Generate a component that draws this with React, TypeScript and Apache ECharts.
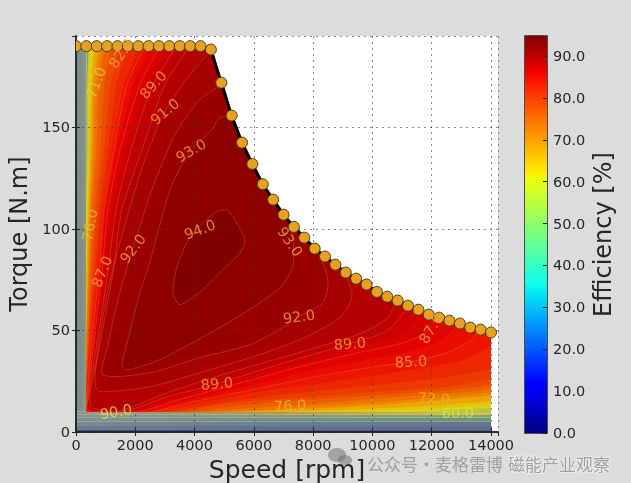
// Motor efficiency map: torque vs speed with contour bands, peak torque envelope and colour bar
import { useEffect, useRef } from "react";
import * as echarts from "echarts";

const FONT = "DejaVu Sans";
const TEXT = "#262626";
const SPEED_MAX = 14236;
const TORQUE_MAX = 195;
const EFF_MAX = 94.8;

// Peak torque envelope
const ENVELOPE_SPEED = [
  0, 350, 700, 1050, 1400, 1750, 2100, 2450, 2800, 3150, 3500, 3850, 4200, 4550, 4900, 5250, 5600, 5950, 6300, 6650,
  7000, 7350, 7700, 8050, 8400, 8750, 9100, 9450, 9800, 10150, 10500, 10850, 11200, 11550, 11900, 12250, 12600, 12950,
  13300, 13650, 14000,
];
const ENVELOPE_TORQUE = [
  190, 190, 190, 190, 190, 190, 190, 190, 190, 190, 190, 190, 190, 188.3, 172, 155.8, 142.5, 132, 122, 114.4, 107, 101,
  95.7, 90.3, 86.4, 82.4, 78.5, 75.5, 72.6, 69, 66.6, 64.7, 62.2, 60.2, 57.8, 56.3, 54.8, 53.4, 51.4, 50.4, 49,
];

// Efficiency contours as [speed, torque], drawn from low to high
const BASE_BAND = [[350, 190], [350, 10], [14000, 10], [14000, 49]];
const LEVELS = [60, 63, 66, 69, 72, 74, 76, 78, 80, 82, 84, 85, 86, 87, 88, 89, 90, 91, 92, 93, 94];
const LEVEL_OPACITY = [0.55, 0.65, 0.72, 0.8, 0.85, 0.9, 0.95, 1, 1, 1, 1, 1, 1, 1, 1, 1, 1, 1, 1, 1, 1];
const LINE_LEVELS = [85, 87, 89, 90, 91, 92, 93, 94];
const CONTOURS: number[][][] = [
  [[420, 190], [380, 171], [380, 139], [350, 120], [350, 10], [12500, 10], [14000, 10.5]],
  [[470, 190], [420, 171], [420, 139], [350, 110], [350, 10], [11500, 10], [14000, 12]],
  [[540, 190], [470, 171], [440, 139], [380, 109.5], [350, 85], [350, 10], [9000, 10], [12000, 11.5], [14000, 13.5]],
  [[640, 190], [520, 171], [480, 139], [420, 109.5], [350, 75], [350, 10], [7000, 10], [10000, 11.5], [12000, 13], [14000, 15]],
  [[760, 190], [580, 171], [540, 139], [450, 109.5], [405, 79], [350, 50], [350, 10], [5500, 10], [8000, 11.5], [10000, 13], [12075, 15.5], [14000, 18]],
  [[880, 190], [670, 171], [620, 139], [490, 109.5], [440, 79], [350, 45], [350, 10], [5000, 10], [7000, 11.5], [9000, 13.5], [11000, 15.5], [12500, 17.5], [14000, 19.5]],
  [[1000, 190], [760, 171], [700, 139], [530, 109.5], [470, 79], [370, 40], [350, 30], [350, 10], [4500, 10], [6000, 12], [7220, 13], [9000, 15], [11000, 17.5], [12500, 19], [14000, 21]],
  [[1200, 190], [950, 171], [820, 139], [625, 109.5], [520, 79], [385, 40], [350, 28], [350, 10], [4000, 10], [5500, 13], [7000, 15], [9000, 17], [11000, 19], [12500, 20.5], [14000, 23]],
  [[1485, 190], [1150, 171], [945, 139], [710, 109.5], [575, 79], [405, 40.5], [350, 25], [350, 10], [3500, 10], [5000, 14], [7000, 16.5], [9000, 18.5], [11000, 20.5], [12500, 22], [14000, 26]],
  [[1750, 190], [1350, 171], [1070, 139], [810, 109.5], [640, 79], [425, 40.5], [350, 22], [350, 10], [3100, 10], [4700, 14], [6700, 18], [8700, 21], [10700, 24], [12300, 26.5], [14000, 31]],
  [[2150, 190], [1600, 171], [1200, 139], [900, 109.5], [710, 79], [470, 40.5], [355, 20], [350, 10], [2700, 10], [4200, 14.5], [6200, 20], [8200, 24], [10200, 28], [11700, 31.5], [13000, 35], [14000, 42]],
  [[2325, 190], [1720, 171], [1280, 139], [945, 109.5], [775, 79], [505, 40.5], [370, 18], [350, 10], [2500, 10], [4000, 15], [6000, 21], [8000, 27], [10000, 32], [11300, 34.6], [12500, 39], [13300, 45], [13650, 50.4]],
  [[2550, 190], [1900, 171], [1370, 139], [1000, 109.5], [820, 79], [540, 40.5], [390, 18], [370, 10], [2300, 10], [3700, 15.5], [5800, 22.5], [7800, 30], [9700, 35.5], [11000, 38.5], [12200, 44], [12950, 53.4]],
  [[2830, 190], [2160, 171], [1485, 139], [1080, 109.5], [875, 79], [575, 40.5], [405, 18.4], [390, 10], [2100, 10], [3500, 16], [5500, 24], [7500, 32], [9500, 39], [10800, 43], [11700, 48], [12150, 56.5]],
  [[3100, 190], [2380, 171], [1650, 139], [1200, 109.5], [960, 79], [620, 40.5], [420, 18.4], [400, 11], [1850, 10], [3250, 16.5], [5100, 24], [7200, 33], [9350, 41.5], [10700, 47], [11450, 54], [11700, 59]],
  [[3405, 190], [2600, 171], [1855, 139], [1350, 109.5], [1080, 79], [675, 40.5], [440, 18.4], [405, 11], [1600, 10], [3000, 17], [4755, 23.8], [7000, 34], [9240, 43.5], [10500, 50], [11200, 62]],
  [[3845, 190], [3000, 171], [2225, 139], [1550, 109.5], [1250, 79], [775, 40.5], [470, 18.4], [540, 12], [1350, 10], [3200, 20], [5000, 28.5], [7500, 39], [9500, 48], [10500, 56], [10800, 64.7]],
  [[4550, 188], [3845, 176], [3000, 157.8], [2325, 134], [1650, 102], [1080, 70], [740, 40.5], [640, 23], [810, 19.8], [2500, 22.3], [4180, 29.2], [5870, 36.6], [7555, 45.5], [8900, 56.3], [9310, 66.7], [9075, 78.5]],
  [[4925, 171], [4180, 163.7], [3340, 146.4], [2565, 119.4], [1920, 90.3], [1415, 65.2], [1080, 43], [910, 28.2], [2500, 29.2], [4180, 36.6], [5870, 43], [6980, 51.4], [7520, 56.8], [8330, 63.7], [8500, 75], [8130, 89.8]],
  [[5260, 155.5], [4855, 154.8], [4590, 148.9], [3880, 138.6], [3240, 121.8], [2830, 102], [2495, 83.9], [2090, 65.2], [1755, 45.5], [1550, 33], [1700, 30.5], [2730, 35], [4180, 46], [5295, 55.3], [6205, 63.7], [6980, 72.6], [7320, 82.4], [7320, 94.7], [7220, 103]],
  [[5093, 109.5], [5295, 106], [5700, 94.7], [5532, 88.3], [4857, 78.5], [4182, 69], [3508, 62.7], [3272, 68.6], [3407, 81.4], [3744, 93.2], [4216, 102], [4756, 108.5], [5093, 109.5]],
];

// Contour labels
const LABEL_TEXT = ["71.0", "82.0", "89.0", "91.0", "93.0", "76.0", "94.0", "87.0", "92.0", "90.0", "89.0", "93.0", "92.0", "89.0", "85.0", "87.0", "76.0", "72.0", "60.0"];
const LABEL_SPEED = [675, 1520, 2600, 3000, 3880, 470, 4180, 875, 1920, 1350, 4755, 7220, 7520, 9240, 11300, 11975, 7220, 12075, 12885];
const LABEL_TORQUE = [172, 186.4, 171, 157.8, 138.6, 102, 99.7, 79, 90.3, 10, 23.8, 93.7, 56.8, 43.5, 34.6, 50.9, 13, 16.4, 9.5];
const LABEL_ANGLE = [70, 55, 48, 40, 30, 80, 20, 68, 52, 10, 5, -55, 8, 5, 3, 58, 3, -3, 0];
const LABEL_COLOR: Record<string, string> = {
  "60.0": "#d6e63c",
  "71.0": "#d4d440",
  "72.0": "#eeb03c",
  "76.0": "#ecbc36",
  "90.0": "#e8da4c",
};

// Grey zone outside the map
const STRIP_SPEED_FROM = [0, 0, 0, 0, 0, 0, 0];
const STRIP_SPEED_TO = [350, 14000, 14000, 14000, 14000, 14000, 14000];
const STRIP_TORQUE_FROM = [10, 8.5, 7, 5, 3, 1, 0];
const STRIP_TORQUE_TO = [190, 10, 8.5, 7, 5, 3, 1];
const STRIP_COLORS = [
  ["#7b888f", "#7f8c8c", "#8d9a78"],
  ["#88968e", "#b09a58", "#d6c432"],
  ["#85938e", "#8a9a6e", "#88a264"],
  ["#81908f", "#6f9088", "#6c947e"],
  ["#7b888f", "#698088", "#64788c"],
  ["#6e7a92", "#607090", "#5c6a94"],
  ["#454f7c", "#4c5888", "#505e8c"],
];

// Matplotlib jet
const JET_POS = [0, 0.11, 0.125, 0.35, 0.375, 0.64, 0.66, 0.89, 0.91, 1];
const JET_RGB = [
  [0, 0, 128], [0, 0, 255], [0, 0, 255], [0, 229, 247], [12, 255, 235],
  [238, 255, 10], [255, 234, 0], [255, 19, 0], [244, 0, 0], [128, 0, 0],
];

function jet(value: number, gain = 1) {
  const t = Math.min(1, Math.max(0, value / EFF_MAX));
  let i = 0;
  while (i < JET_POS.length - 2 && t > JET_POS[i + 1]) i++;
  const f = (t - JET_POS[i]) / (JET_POS[i + 1] - JET_POS[i]);
  const c = JET_RGB[i].map((v, k) => Math.round((v + (JET_RGB[i + 1][k] - v) * f) * gain));
  return `rgb(${c[0]},${c[1]},${c[2]})`;
}

function closedBand(points: number[][]) {
  // Close the contour back along the envelope
  const first = points[0][0];
  const last = points[points.length - 1][0];
  const back: number[][] = [];
  for (let i = ENVELOPE_SPEED.length - 1; i >= 0; i--) {
    const s = ENVELOPE_SPEED[i];
    if (s > first && s <= last) back.push([s, ENVELOPE_TORQUE[i]]);
  }
  return [...points, ...back];
}

function tickLabel(step: number, digits: number) {
  return (v: number) => (v % step === 0 ? v.toFixed(digits) : "");
}

export default function App() {
  const chartRef = useRef<HTMLDivElement>(null);

  useEffect(() => {
    if (!chartRef.current) return;
    const chart = echarts.init(chartRef.current, undefined, { renderer: "svg" });

    const frameLine = { show: true, lineStyle: { color: "#222", width: 1.5 } };
    const labelStyle = { color: TEXT, fontFamily: FONT, fontSize: 14.5 };
    const nameStyle = { color: TEXT, fontFamily: FONT, fontSize: 24 };
    const tick = { show: true, inside: true, length: 4, lineStyle: { color: "#222" } };
    const gridLine = { show: true, lineStyle: { color: "rgba(60,60,60,0.6)", type: [2, 4] as number[], width: 1 } };

    const option: any = {
      animation: false,
      backgroundColor: "transparent",
      grid: [
        { left: 76, top: 36, width: 422, height: 396, show: true, backgroundColor: "#fff", borderWidth: 0, outerBoundsMode: "none" },
        { left: 525, top: 36, width: 22, height: 397, show: true, borderColor: "#1c1c1c", borderWidth: 1.5, outerBoundsMode: "none" },
      ],
      xAxis: [
        {
          type: "value", gridIndex: 0, min: 0, max: SPEED_MAX, interval: 2000, z: 3,
          name: "Speed [rpm]", nameLocation: "middle", nameGap: 24, nameTextStyle: { ...nameStyle, fontSize: 25 },
          axisLine: frameLine, axisTick: tick, splitLine: gridLine,
          axisLabel: { ...labelStyle, margin: 5, showMaxLabel: false, formatter: tickLabel(2000, 0) },
        },
        {
          type: "value", gridIndex: 0, position: "top", min: 0, max: SPEED_MAX, interval: 2000, z: 3,
          axisLine: frameLine, axisTick: tick, splitLine: { show: false }, axisLabel: { show: false },
        },
        {
          type: "category", gridIndex: 1, data: [""], show: false,
        },
      ],
      yAxis: [
        {
          type: "value", gridIndex: 0, min: 0, max: TORQUE_MAX, interval: 50, z: 3,
          name: "Torque [N.m]", nameLocation: "middle", nameGap: 40, nameTextStyle: nameStyle,
          axisLine: frameLine, axisTick: tick, splitLine: gridLine,
          axisLabel: { ...labelStyle, margin: 6, showMaxLabel: false, formatter: tickLabel(50, 0) },
        },
        {
          type: "value", gridIndex: 0, position: "right", min: 0, max: TORQUE_MAX, interval: 50, z: 3,
          axisLine: frameLine, axisTick: tick, splitLine: { show: false }, axisLabel: { show: false },
        },
        {
          type: "value", gridIndex: 1, position: "right", min: 0, max: EFF_MAX, interval: 10, z: 3,
          name: "Efficiency [%]", nameLocation: "middle", nameGap: 44, nameRotate: 90, nameTextStyle: nameStyle,
          axisLine: { show: false }, axisTick: { show: true, inside: true, length: 4, lineStyle: { color: "#222" } },
          splitLine: { show: false },
          axisLabel: { ...labelStyle, margin: 6, showMaxLabel: false, formatter: tickLabel(10, 1) },
        },
      ],
      series: [
        {
          // Grey zone
          type: "custom", xAxisIndex: 0, yAxisIndex: 0, z: 2, silent: true, clip: true,
          data: STRIP_COLORS.map((_, i) => [i]),
          renderItem: (params: any, api: any) => {
            const i = params.dataIndex;
            const a = api.coord([STRIP_SPEED_FROM[i], STRIP_TORQUE_TO[i]]);
            const b = api.coord([STRIP_SPEED_TO[i], STRIP_TORQUE_FROM[i]]);
            const colors = STRIP_COLORS[i];
            return {
              type: "rect",
              shape: { x: a[0], y: a[1], width: b[0] - a[0], height: b[1] - a[1] },
              style: {
                fill: new echarts.graphic.LinearGradient(0, 0, 1, 0, [
                  { offset: 0, color: colors[0] },
                  { offset: 0.5, color: colors[1] },
                  { offset: 1, color: colors[2] },
                ]),
              },
            };
          },
        },
        {
          // Olive base under the low bands
          type: "custom", xAxisIndex: 0, yAxisIndex: 0, z: 2, silent: true, clip: true,
          data: [[0]],
          renderItem: (_: any, api: any) => ({
            type: "polygon",
            shape: { points: closedBand(BASE_BAND).map((p) => api.coord(p)) },
            style: { fill: "#9a9c62" },
          }),
        },
        {
          // Filled efficiency bands
          type: "custom", xAxisIndex: 0, yAxisIndex: 0, z: 2, silent: true, clip: true,
          data: LEVELS.map((l) => [l]),
          renderItem: (params: any, api: any) => {
            const i = params.dataIndex;
            return {
              type: "polygon",
              shape: {
                points: closedBand(CONTOURS[i]).map((p) => api.coord(p)),
                smooth: LEVELS[i] >= 89 ? 0.25 : 0,
              },
              style: { fill: jet(LEVELS[i], 0.93), opacity: LEVEL_OPACITY[i] },
            };
          },
        },
        {
          // Contour lines
          type: "custom", xAxisIndex: 0, yAxisIndex: 0, z: 2, silent: true, clip: true,
          data: LINE_LEVELS.map((l) => [l]),
          renderItem: (params: any, api: any) => ({
            type: "polyline",
            shape: {
              points: CONTOURS[LEVELS.indexOf(LINE_LEVELS[params.dataIndex])].map((p) => api.coord(p)),
              smooth: 0.25,
            },
            style: { fill: "none", stroke: "rgba(238,140,90,0.3)", lineWidth: 1 },
          }),
        },
        {
          // Peak torque line
          type: "line", xAxisIndex: 0, yAxisIndex: 0, z: 4, silent: true, showSymbol: false,
          data: ENVELOPE_SPEED.map((s, i) => [s, ENVELOPE_TORQUE[i]]),
          lineStyle: { color: "#000", width: 3 },
        },
        {
          // Peak torque markers, clipped at the axis
          type: "custom", xAxisIndex: 0, yAxisIndex: 0, z: 5, silent: true, clip: true,
          data: ENVELOPE_SPEED.map((s, i) => [s, ENVELOPE_TORQUE[i]]),
          renderItem: (_: any, api: any) => {
            const c = api.coord([api.value(0), api.value(1)]);
            return {
              type: "circle",
              shape: { cx: c[0], cy: c[1], r: 5.5 },
              style: { fill: "#e6a122", stroke: "#4c3c12", lineWidth: 1 },
            };
          },
        },
        {
          // Contour labels
          type: "scatter", xAxisIndex: 0, yAxisIndex: 0, z: 6, silent: true, symbolSize: 0,
          data: LABEL_TEXT.map((text, i) => ({
            value: [LABEL_SPEED[i], LABEL_TORQUE[i]],
            label: {
              show: true, position: "inside", formatter: text, rotate: LABEL_ANGLE[i],
              color: LABEL_COLOR[text] ?? "#f4a443", fontFamily: FONT, fontSize: 14.5,
            },
          })),
        },
        {
          // Colour bar
          type: "bar", xAxisIndex: 2, yAxisIndex: 2, z: 2, silent: true, barWidth: "100%",
          data: [EFF_MAX],
          itemStyle: {
            color: new echarts.graphic.LinearGradient(
              0, 1, 0, 0,
              JET_POS.map((p) => ({ offset: p, color: jet(p * EFF_MAX) })),
            ),
          },
        },
      ],
      graphic: [
        { type: "ellipse", z: 10, shape: { cx: 337, cy: 455, rx: 9, ry: 7 }, style: { fill: "rgba(105,105,105,0.5)" } },
        { type: "ellipse", z: 10, shape: { cx: 345, cy: 460, rx: 7, ry: 5 }, style: { fill: "rgba(105,105,105,0.5)" } },
        {
          type: "text", z: 10, x: 367, y: 455,
          style: { text: "公众号·麦格雷博", fontFamily: "Noto Sans CJK SC", fontSize: 17, fill: "rgba(100,100,100,0.5)" },
        },
        {
          type: "text", z: 10, x: 508, y: 455,
          style: {
            text: "磁能产业观察", fontFamily: "Noto Sans CJK SC", fontSize: 17,
            fill: "rgba(110,110,110,0.6)", stroke: "rgba(255,255,255,0.45)", lineWidth: 2,
          },
        },
      ],
    };

    chart.setOption(option);
    return () => chart.dispose();
  }, []);

  return (
    <div style={{ position: "fixed", inset: 0, background: "#dcdcdc" }}>
      <div ref={chartRef} style={{ width: 631, height: 483, filter: "blur(0.5px)" }} />
    </div>
  );
}
